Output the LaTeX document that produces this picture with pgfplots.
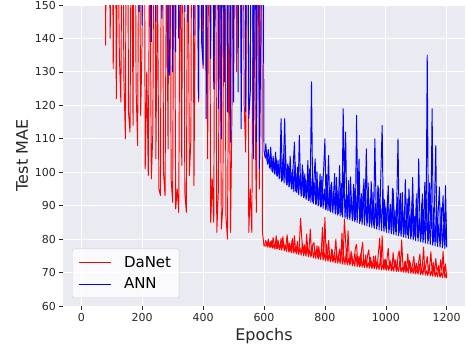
\documentclass[border=0pt]{standalone}
\usepackage{pgfplots}
\pgfplotsset{compat=1.18}
\usepackage{fontspec}
\setmainfont{DejaVu Sans}
\definecolor{bgc}{HTML}{EAEAF2}
\definecolor{txt}{HTML}{262626}
\begin{document}
\begin{tikzpicture}
\begin{axis}[
  scale only axis, width=402pt, height=301pt,
  xmin=-60, xmax=1260, ymin=60, ymax=150,
  xtick={0,200,...,1200}, ytick={60,70,...,150},
  axis background/.style={fill=bgc},
  axis line style={draw=none},
  grid=major, major grid style={white, line width=0.9pt},
  tick align=outside, major tick length=3.5pt,
  tick style={txt, line width=0.6pt},
  xtick pos=bottom, ytick pos=left,
  /pgf/number format/assume math mode=true,
  /pgf/number format/set thousands separator={},
  ticklabel style={font=\fontsize{11}{13}\selectfont, text=txt},
  xlabel={Epochs}, ylabel={Test MAE},
  label style={font=\fontsize{16}{19}\selectfont, text=txt},
  legend style={at={(0.0224,0.0266)}, anchor=south west,
    font=\fontsize{15}{18}\selectfont, fill=white, fill opacity=0.8, text opacity=1,
    draw=black!20, rounded corners=2pt, inner xsep=6pt, inner ysep=5.5pt,
    row sep=5pt, column sep=11pt},
  legend cell align=left,
  legend image code/.code={\draw[#1, line width=0.8pt] (0pt,0pt) -- (32pt,0pt);},
  every axis plot/.append style={line width=0.95pt, line join=round},
]
\addplot[red] coordinates {
(0,250)(75,250)(80,138)(85,250)(90,200)(95,140)(100,220)(105,131)(110,250)(115,122)
(120,180)(125,135)(130,121)(135,200)(140,128)(145,110)(150,260)(155,118)(160,112)(165,190)
(170,114)(175,230)(180,125)(185,108)(190,200)(195,117)(200,140)(205,250)(210,101)(215,130)
(220,99)(225,180)(230,98)(235,112)(240,220)(245,104)(250,160)(255,95)(260,93)(265,240)
(270,100)(275,93)(280,170)(285,107)(290,250)(295,98)(300,91)(305,200)(310,89)(315,95)
(320,88)(325,180)(330,102)(335,240)(340,94)(345,88)(350,190)(355,99)(360,110)(365,260)
(370,96)(375,160)(380,200)(385,121)(390,250)(395,180)(400,131)(405,240)(410,190)(415,104)
(420,210)(425,85)(430,98)(435,85)(440,200)(445,82)(450,94)(455,160)(460,83)(465,90)
(470,230)(475,87)(480,80)(485,150)(490,82)(495,120)(500,240)(505,200)(510,130)(515,250)
(520,180)(525,140)(530,210)(535,120)(540,106)(545,230)(550,82)(555,95)(560,82)(565,170)
(570,124)(575,88)(580,200)(585,95)(590,250)(595,82)
(600,78.0)(604,77.9)(608,78.4)(612,77.6)(616,78.9)(620,77.4)(624,79.5)(628,77.3)(632,78.2)(636,77.0)
(640,81.0)(644,77.2)(648,78.5)(652,76.9)(656,80.2)(660,77.5)(664,79.0)(668,76.6)(672,78.1)(676,81.3)
(680,76.4)(684,78.8)(688,76.5)(692,79.6)(696,76.0)(700,81.0)(704,76.3)(708,78.0)(712,75.8)(716,77.9)
(720,86.2)(724,80.5)(728,76.0)(732,78.4)(736,75.4)(740,81.5)(744,75.6)(748,77.2)(752,83.0)(756,75.0)
(760,78.3)(764,79.0)(768,74.8)(772,76.9)(776,74.6)(780,77.8)(784,74.5)(788,76.2)(792,83.5)(796,74.2)
(800,86.5)(804,75.0)(808,73.8)(812,79.6)(816,74.4)(820,73.6)(824,76.8)(828,73.5)(832,75.9)(836,80.0)
(840,73.2)(844,74.6)(848,77.0)(852,73.1)(856,81.8)(860,74.0)(864,86.0)(868,79.5)(872,72.8)(876,82.5)
(880,74.2)(884,72.6)(888,75.8)(892,72.5)(896,74.0)(900,77.3)(904,78.4)(908,72.3)(912,74.9)(916,72.0)
(920,76.5)(924,79.0)(928,72.1)(932,73.8)(936,71.8)(940,75.1)(944,76.8)(948,71.7)(952,73.4)(956,71.6)
(960,74.9)(964,71.5)(968,73.2)(972,71.8)(976,76.3)(980,80.3)(984,72.0)(988,81.0)(992,71.3)(996,73.8)
(1000,71.0)(1004,74.2)(1008,77.2)(1012,71.2)(1016,73.0)(1020,70.8)(1024,76.0)(1028,71.5)(1032,73.6)(1036,70.6)
(1040,74.9)(1044,76.5)(1048,70.8)(1052,79.8)(1056,72.2)(1060,70.5)(1064,73.4)(1068,70.4)(1072,75.6)(1076,71.0)
(1080,73.0)(1084,70.2)(1088,72.5)(1092,74.8)(1096,70.0)(1100,72.8)(1104,70.3)(1108,73.3)(1112,75.5)(1116,69.8)
(1120,72.0)(1124,77.6)(1128,70.4)(1132,72.4)(1136,74.8)(1140,69.6)(1144,71.8)(1148,76.2)(1152,70.0)(1156,73.0)
(1160,69.3)(1164,74.2)(1168,70.5)(1172,71.6)(1176,69.0)(1180,73.8)(1184,70.4)(1188,76.3)(1192,69.2)(1196,72.6)
(1200,68.3)
};
\addlegendentry{DaNet}
\addplot[red, forget plot] coordinates {
(602,78.3)(606,79.6)(610,78.0)(614,80.0)(618,77.8)(622,79.2)(626,77.6)(630,80.5)(634,77.4)(638,78.9)
(642,77.1)(646,79.8)(650,76.9)(654,78.6)(658,76.7)(662,80.8)(666,76.6)(670,78.3)(674,76.3)(678,79.4)
(682,76.1)(686,78.0)(690,75.9)(694,80.2)(698,75.8)(702,77.6)(706,75.6)(710,79.3)(714,75.4)(718,77.5)
(722,75.2)(726,78.8)(730,75.0)(734,77.0)(738,74.9)(742,79.0)(746,74.7)(750,76.8)(754,74.6)(758,78.2)
(762,74.4)(766,76.4)(770,74.2)(774,78.0)(778,74.0)(782,76.2)(786,73.9)(790,77.4)(794,73.7)(798,75.8)
(802,73.5)(806,78.6)(810,73.4)(814,75.5)(818,73.2)(822,77.0)(826,73.1)(830,75.0)(834,72.9)(838,76.6)
(842,72.8)(846,74.6)(850,72.7)(854,77.8)(858,72.5)(862,74.8)(866,72.4)(870,76.0)(874,72.3)(878,74.2)
(882,72.2)(886,76.4)(890,72.0)(894,73.8)(898,71.9)(902,75.5)(906,71.8)(910,73.6)(914,71.7)(918,75.8)
(922,71.6)(926,73.4)(930,71.5)(934,75.2)(938,71.4)(942,73.0)(946,71.3)(950,74.6)(954,71.2)(958,72.8)
(962,71.1)(966,75.0)(970,71.0)(974,72.6)(978,70.9)(982,74.3)(986,70.8)(990,72.4)(994,70.8)(998,74.0)
(1002,70.7)(1006,72.2)(1010,70.6)(1014,73.8)(1018,70.5)(1022,72.0)(1026,70.4)(1030,73.9)(1034,70.3)(1038,71.8)
(1042,70.3)(1046,73.4)(1050,70.2)(1054,71.6)(1058,70.1)(1062,73.2)(1066,70.0)(1070,71.5)(1074,69.9)(1078,73.6)
(1082,69.8)(1086,71.3)(1090,69.7)(1094,72.8)(1098,69.6)(1102,71.0)(1106,69.5)(1110,72.6)(1114,69.4)(1118,70.9)
(1122,69.3)(1126,72.8)(1130,69.2)(1134,70.6)(1138,69.1)(1142,72.4)(1146,69.0)(1150,70.4)(1154,68.9)(1158,72.0)
(1162,68.8)(1166,70.2)(1170,68.7)(1174,72.2)(1178,68.6)(1182,70.0)(1186,68.5)(1190,71.6)(1194,68.4)(1198,69.8)
};
\addplot[blue] coordinates {
(0,250)(185,250)(190,148)(195,250)(200,144)(205,250)(210,200)(215,250)(220,180)(225,250)
(230,139)(235,250)(240,200)(245,145)(250,250)(255,230)(260,250)(265,146)(270,250)(275,200)
(280,250)(285,131)(290,129)(295,250)(300,130)(305,250)(310,136)(315,250)(320,140)(325,250)
(330,190)(335,250)(340,148)(345,250)(350,145)(355,250)(360,200)(365,250)(370,141)(375,250)
(380,200)(385,122)(390,250)(395,139)(400,132)(405,250)(410,116)(415,200)(420,250)(425,134)
(430,250)(435,125)(440,180)(445,250)(450,119)(455,250)(460,110)(465,200)(470,127)(475,250)
(480,118)(485,250)(490,109)(495,250)(500,121)(505,200)(510,250)(515,124)(520,250)(525,113)
(530,180)(535,250)(540,118)(545,250)(550,116)(555,124)(560,250)(565,104)(570,200)(575,109)
(580,250)(585,101)(590,144)(595,250)
(600,106.5)(604,104.2)(608,105.8)(612,102.4)(616,103.9)(620,101.0)(624,104.6)(628,100.0)(632,102.8)(636,99.4)
(640,104.0)(644,98.8)(648,101.5)(652,98.3)(656,116.0)(660,97.6)(664,103.2)(668,116.0)(672,98.0)(676,96.3)
(680,101.8)(684,95.8)(688,99.7)(692,95.0)(696,102.3)(700,109.0)(704,94.4)(708,98.7)(712,93.9)(716,111.0)
(720,96.5)(724,93.0)(728,100.4)(732,92.6)(736,97.8)(740,92.2)(744,103.5)(748,91.6)(752,96.2)(756,127.0)
(760,91.1)(764,98.0)(768,104.0)(772,90.5)(776,95.6)(780,90.2)(784,99.5)(788,89.8)(792,94.0)(796,101.2)
(800,110.0)(804,89.0)(808,93.5)(812,105.0)(816,88.6)(820,96.4)(824,88.3)(828,92.7)(832,99.6)(836,87.9)
(840,94.5)(844,87.6)(848,102.0)(852,90.8)(856,87.3)(860,119.0)(864,95.0)(868,112.0)(872,86.8)(876,93.2)
(880,86.5)(884,98.6)(888,89.4)(892,86.0)(896,95.3)(900,85.8)(904,117.0)(908,89.2)(912,104.0)(916,85.4)
(920,93.6)(924,85.2)(928,98.0)(932,88.4)(936,107.0)(940,84.8)(944,92.0)(948,84.6)(952,97.2)(956,86.8)
(960,84.2)(964,110.0)(968,90.0)(972,83.9)(976,95.4)(980,86.3)(984,100.5)(988,114.0)(992,83.4)(996,91.8)
(1000,83.2)(1004,88.6)(1008,96.0)(1012,82.8)(1016,90.4)(1020,82.5)(1024,94.8)(1028,85.7)(1032,82.2)(1036,91.0)
(1040,110.0)(1044,82.0)(1048,93.7)(1052,81.7)(1056,88.5)(1060,81.5)(1064,97.8)(1068,84.0)(1072,81.2)(1076,95.0)
(1080,86.7)(1084,80.9)(1088,98.4)(1092,83.6)(1096,80.6)(1100,92.2)(1104,80.4)(1108,104.0)(1112,85.2)(1116,80.1)
(1120,93.5)(1124,79.9)(1128,97.0)(1132,82.4)(1136,135.0)(1140,79.6)(1144,96.8)(1148,84.0)(1152,119.0)(1156,79.3)
(1160,90.5)(1164,108.0)(1168,79.0)(1172,88.2)(1176,95.6)(1180,78.7)(1184,86.0)(1188,93.0)(1192,78.3)(1196,96.0)
(1200,77.5)
};
\addlegendentry{ANN}
\addplot[blue, forget plot] coordinates {
(602,105.0)(606,108.5)(610,103.3)(614,106.8)(618,101.4)(622,107.5)(626,100.5)(630,104.8)(634,99.6)(638,106.0)
(642,98.9)(646,103.5)(650,98.0)(654,105.2)(658,97.2)(662,104.0)(666,96.8)(670,108.0)(674,96.2)(678,102.5)
(682,95.6)(686,104.8)(690,95.0)(694,100.8)(698,94.2)(702,103.0)(706,94.0)(710,101.5)(714,93.3)(718,99.0)
(722,92.8)(726,102.2)(730,92.4)(734,99.5)(738,91.9)(742,97.6)(746,91.5)(750,101.0)(754,91.0)(758,98.2)
(762,90.6)(766,96.8)(770,90.3)(774,100.2)(778,89.9)(782,96.5)(786,89.6)(790,98.8)(794,89.2)(798,95.0)
(802,88.8)(806,99.4)(810,88.5)(814,94.6)(818,88.1)(822,97.0)(826,87.8)(830,93.8)(834,87.5)(838,98.5)
(842,87.2)(846,94.2)(850,86.9)(854,96.6)(858,86.6)(862,100.0)(866,86.3)(870,93.5)(874,86.0)(878,97.5)
(882,85.8)(886,92.4)(890,85.5)(894,96.4)(898,85.2)(902,93.0)(906,85.0)(910,97.8)(914,84.7)(918,91.6)
(922,84.4)(926,95.5)(930,84.2)(934,92.0)(938,84.0)(942,96.8)(946,83.7)(950,91.2)(954,83.5)(958,94.0)
(962,83.2)(966,90.6)(970,83.0)(974,96.0)(978,82.8)(982,90.2)(986,82.5)(990,94.8)(994,82.3)(998,89.6)
(1002,82.0)(1006,93.0)(1010,81.8)(1014,89.0)(1018,81.6)(1022,95.2)(1026,81.4)(1030,88.7)(1034,81.2)(1038,92.5)
(1042,81.0)(1046,88.0)(1050,80.8)(1054,94.0)(1058,80.6)(1062,87.6)(1066,80.4)(1070,92.0)(1074,80.2)(1078,87.0)
(1082,80.0)(1086,91.5)(1090,79.8)(1094,86.7)(1098,79.6)(1102,93.6)(1106,79.4)(1110,86.2)(1114,79.2)(1118,90.8)
(1122,79.0)(1126,85.8)(1130,78.8)(1134,92.0)(1138,78.6)(1142,85.4)(1146,78.4)(1150,90.0)(1154,78.2)(1158,85.0)
(1162,78.0)(1166,91.0)(1170,77.8)(1174,84.6)(1178,77.6)(1182,89.5)(1186,77.4)(1190,84.2)(1194,77.2)(1198,86.0)
};
\end{axis}
\pgfresetboundingbox
\path[use as bounding box] ([shift={(-63pt,-45pt)}]current axis.south west) rectangle ([shift={(1pt,5pt)}]current axis.north east);
\end{tikzpicture}
\end{document}
